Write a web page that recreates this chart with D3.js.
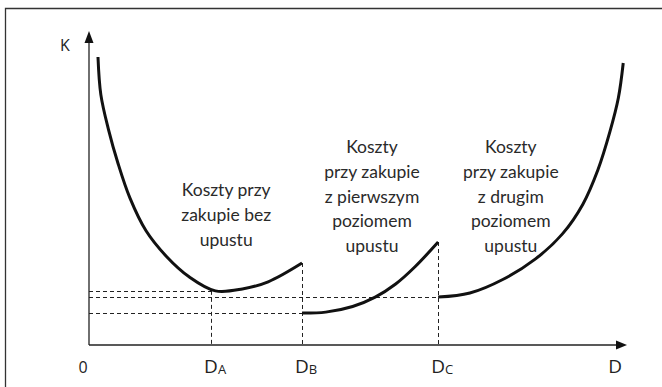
<!DOCTYPE html>
<html><head><meta charset="utf-8">
<script src="https://cdn.jsdelivr.net/npm/d3@7"></script>
<style>
html,body{margin:0;padding:0;background:#fff;}
svg{display:block;}
</style></head>
<body>
<script>
// ---- data (arbitrary units: D on x from 0..100, K on y from 0..100) ----
const curveNoDiscount = [[1.67,92.0],[2.2,80.0],[3.6,69.0],[5.4,58.0],[7.6,47.0],[10.6,36.5],[14.4,28.3],[18.6,21.8],[23.5,17.3],[28.5,17.9],[33.3,20.2],[39.6,26.2]];
const curveFirstDiscount = [[39.6,10.2],[44.0,10.5],[49.0,12.3],[53.2,15.3],[57.0,19.5],[60.6,25.0],[64.9,32.9]];
const curveSecondDiscount = [[64.9,15.3],[70.8,16.6],[77.0,21.0],[83.0,27.5],[88.0,35.5],[91.8,45.0],[94.6,56.0],[96.8,68.0],[98.4,79.0],[99.3,90.1]];
const tickNames = ["0","D","D","D","D"];
const tickSubs = ["","A","B","C",""];
const tickValues = [0,22.7,39.6,64.9,97.8];
const levelK = [17.3,15.3,10.2];      // horizontal dashed levels
const levelEnds = [22.7,64.9,39.6];   // where they end on D
const vertD = [22.7,39.6,64.9];
const vertTop = [17.3,26.2,32.9];
const labels = [
  {x:25.5, lines:["Koszty przy","zakupie bez","upustu"], y0:196},
  {x:52.6, lines:["Koszty","przy zakupie","z pierwszym","poziomem","upustu"], y0:153},
  {x:78.4, lines:["Koszty","przy zakupie","z drugim","poziomem","upustu"], y0:153}
];

const W=662,H=387;
const svg=d3.select("body").append("svg").attr("width",W).attr("height",H);
const x=d3.scaleLinear().domain([0,100]).range([89,627]);
const y=d3.scaleLinear().domain([0,100]).range([345,32]);

// frame (left and top)
svg.append("path").attr("d",`M5.5,${H}V8.5H${W}`).attr("fill","none").attr("stroke","#333").attr("stroke-width",1.3);

// dashed guides
const g=svg.append("g").attr("stroke","#222").attr("stroke-width",1).attr("stroke-dasharray","4,3").attr("fill","none");
levelK.forEach((k,i)=>{
  g.append("line").attr("x1",x(0)).attr("x2",x(levelEnds[i])).attr("y1",Math.round(y(k))+0.5).attr("y2",Math.round(y(k))+0.5);
});
vertD.forEach((d,i)=>{
  g.append("line").attr("x1",Math.round(x(d))+0.5).attr("x2",Math.round(x(d))+0.5).attr("y1",y(vertTop[i])).attr("y2",y(0));
});

// axes
const ax=svg.append("g").attr("stroke","#222").attr("stroke-width",1.3);
ax.append("line").attr("x1",x(0)).attr("x2",x(100)-8).attr("y1",y(0)).attr("y2",y(0));
ax.append("line").attr("x1",x(0)).attr("x2",x(0)).attr("y1",y(0)).attr("y2",y(100)+8);
svg.append("path").attr("d",`M${x(0)},${y(100)-1}L${x(0)-4.5},${y(100)+11}L${x(0)+4.5},${y(100)+11}Z`).attr("fill","#111");
svg.append("path").attr("d",`M${x(100)},${y(0)}L${x(100)-11},${y(0)-4.5}L${x(100)-11},${y(0)+4.5}Z`).attr("fill","#111");

// curves
const line=d3.line().x(d=>x(d[0])).y(d=>y(d[1])).curve(d3.curveCatmullRom.alpha(0.5));
[curveNoDiscount,curveFirstDiscount,curveSecondDiscount].forEach(c=>{
  svg.append("path").attr("d",line(c)).attr("fill","none").attr("stroke","#111").attr("stroke-width",3).attr("stroke-linecap","butt");
});

// axis labels
const lf="'Open Sans','Liberation Sans',sans-serif";
svg.append("text").attr("x",65).attr("y",51).attr("text-anchor","middle").attr("font-family",lf).attr("font-size",16).attr("fill","#222").text("K");
tickValues.forEach((v,i)=>{
  const t=svg.append("text").attr("x",x(v)+(i===0?-6:(i===4?0:4))).attr("y",373).attr("text-anchor","middle")
    .attr("font-family",lf).attr("font-size",i===0?16:19).attr("fill","#222");
  t.append("tspan").text(tickNames[i]);
  if(tickSubs[i]) t.append("tspan").attr("font-size",13).attr("dy",1).text(tickSubs[i]);
});

// text labels
const tf="'Lato','Open Sans',sans-serif";
labels.forEach(l=>{
  const t=svg.append("text").attr("text-anchor","middle").attr("font-family",tf).attr("font-size",17.5).attr("font-weight",400).attr("fill","#2a2a2a");
  l.lines.forEach((s,i)=>t.append("tspan").attr("x",x(l.x)).attr("y",l.y0+i*24.8).text(s));
});
</script>
</body></html>
